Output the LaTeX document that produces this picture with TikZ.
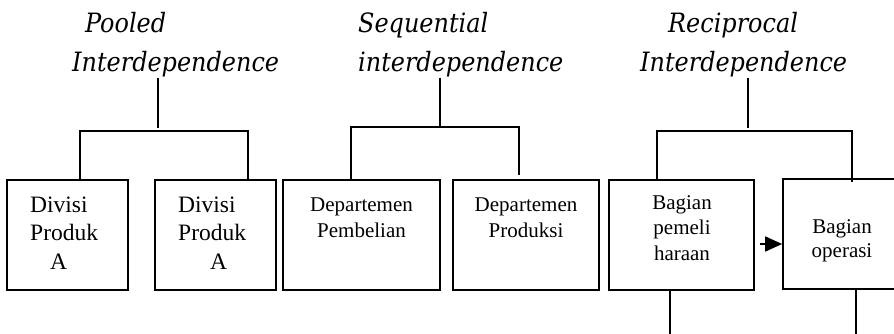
\documentclass[tikz,border=0pt]{standalone}
\usepackage{fontspec}
\setmainfont{Liberation Serif}
\newfontfamily\titlefamily{DejaVu Serif Condensed}
\usetikzlibrary{arrows.meta}
\begin{document}
\begin{tikzpicture}[x=1pt,y=-1pt,
  box/.style={draw, line width=1.7pt, rectangle, inner sep=0pt, minimum height=110pt},
  heading/.style={anchor=base west, inner sep=0pt, font=\titlefamily\itshape\fontsize{26.6}{32}\selectfont},
  bigtxt/.style={anchor=base west, inner sep=0pt, align=left, font=\fontsize{23.5}{28.2}\selectfont},
  txt/.style={anchor=base, inner sep=0pt, align=center, font=\fontsize{21}{25.5}\selectfont},
  link/.style={line width=1.6pt},
  flow/.style={line width=1.6pt, -{Triangle[length=17pt,width=15pt]}},
]
\useasboundingbox (0,0) rectangle (894,334);
\clip (0,0) rectangle (894,334);

% headings
\node[heading] (pooled1) at (85,33) {Pooled};
\node[heading] (pooled2) at (72,72) {Interdependence};
\node[heading] (seq1) at (358,33) {Sequential};
\node[heading] (seq2) at (358,72) {interdependence};
\node[heading] (rec1) at (668,33) {Reciprocal};
\node[heading] (rec2) at (640,72) {Interdependence};

% unit boxes
\node[box, minimum width=121pt] (b1) at (67.5,235) {};
\node[box, minimum width=121pt] (b2) at (215.5,235) {};
\node[box, minimum width=157pt] (b3) at (361.5,235) {};
\node[box, minimum width=146pt] (b4) at (526,235) {};
\node[box, minimum width=145pt] (b5) at (681.5,235) {};
\node[box, minimum width=118pt] (b6) at (842,234) {};

% box labels (anchored on the baseline of their last line)
\node[bigtxt] (t1) at (30,269) {Divisi\\Produk\\\hspace*{20pt}A};
\node[bigtxt] (t2) at (178,269) {Divisi\\Produk\\\hspace*{32pt}A};
\node[txt] (t3) at (361.5,237) {Departemen\\Pembelian};
\node[txt] (t4) at (526,237) {Departemen\\Produksi};
\node[txt] (t5) at (682,260) {Bagian\\pemeli\\haraan};
\node[txt, font=\fontsize{21}{24}\selectfont] (t6) at (842,257) {Bagian\\operasi};

% pooled tree
\coordinate (ps) at (158,128);
\coordinate (pl) at (80,131);
\coordinate (pr) at (248,131);
\draw[link] (pooled2.south -| ps) -- (ps);
\draw[link] (b1.north -| pl) -- (pl) -- (pr) -- (b2.north -| pr);

% sequential tree
\coordinate (ss) at (440,127);
\coordinate (sl) at (351,127);
\coordinate (sr) at (519,127);
\coordinate (se) at (519,175);
\draw[link] (seq2.south -| ss) -- (ss);
\draw[link] (b3.north -| sl) -- (sl) -- (sr) -- (se);

% reciprocal tree
\coordinate (rs) at (748,128);
\coordinate (rl) at (657,131);
\coordinate (rr) at (852,131);
\coordinate (re) at (852,182);
\draw[link] (rec2.south -| rs) -- (rs);
\draw[link] (b5.north -| rl) -- (rl) -- (rr) -- (re);

% lines leaving the reciprocal pair
\coordinate (d5) at (670,334);
\coordinate (d6) at (856,334);
\draw[link] (b5.south -| d5) -- (d5);
\draw[link] (b6.south -| d6) -- (d6);

% flow between the two parts
\coordinate (fa) at (760,244);
\draw[flow] (fa) -- (fa -| b6.west);
\end{tikzpicture}
\end{document}
